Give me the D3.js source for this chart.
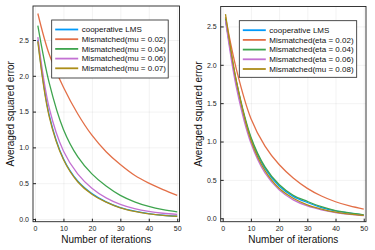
<!DOCTYPE html>
<html>
<head>
<meta charset="utf-8">
<script src="https://cdn.jsdelivr.net/npm/d3@7"></script>
<style>
  body { margin: 0; background: #fff; }
  text { font-family: "Liberation Sans", Arial, sans-serif; }
</style>
</head>
<body>
<svg id="chart" width="375" height="250"></svg>
<script>
// iteration samples
var iterations = [1, 5, 10, 15, 20, 25, 30, 35, 40, 45, 50];

// left panel (mu)
var leftCoop   = [2.50, 1.45, 0.84, 0.53, 0.355, 0.24, 0.16, 0.11, 0.075, 0.052, 0.040];
var leftMu002  = [2.87, 2.30, 1.84, 1.47, 1.17, 0.94, 0.76, 0.61, 0.50, 0.41, 0.33];
var leftMu004  = [2.70, 1.90, 1.25, 0.87, 0.63, 0.46, 0.33, 0.24, 0.175, 0.13, 0.10];
var leftMu006  = [2.54, 1.55, 0.95, 0.63, 0.43, 0.295, 0.205, 0.145, 0.105, 0.08, 0.065];
var leftMu007  = [2.48, 1.43, 0.83, 0.52, 0.345, 0.235, 0.155, 0.105, 0.072, 0.05, 0.038];

// right panel (eta)
var rightCoop   = [2.60, 1.74, 1.04, 0.65, 0.42, 0.285, 0.205, 0.14, 0.095, 0.065, 0.042];
var rightEta002 = [2.62, 1.92, 1.30, 0.94, 0.70, 0.525, 0.39, 0.29, 0.215, 0.16, 0.12];
var rightEta004 = [2.60, 1.76, 1.06, 0.67, 0.44, 0.30, 0.22, 0.15, 0.10, 0.07, 0.045];
var rightEta006 = [2.58, 1.68, 0.98, 0.59, 0.37, 0.24, 0.16, 0.11, 0.075, 0.05, 0.033];
var rightMu008  = [2.66, 1.76, 1.02, 0.62, 0.39, 0.26, 0.175, 0.12, 0.08, 0.055, 0.038];

var leftLabels  = ["cooperative LMS", "Mismatched(mu = 0.02)", "Mismatched(mu = 0.04)", "Mismatched(mu = 0.06)", "Mismatched(mu = 0.07)"];
var rightLabels = ["cooperative LMS", "Mismatched(eta = 0.02)", "Mismatched(eta = 0.04)", "Mismatched(eta = 0.06)", "Mismatched(mu = 0.08)"];

var xTicks = [0, 10, 20, 30, 40, 50];
var yTicks = [0.0, 0.5, 1.0, 1.5, 2.0, 2.5];

var colors = ["#009AFA", "#E36F47", "#3EA44E", "#C371D2", "#AC8D18"];

var panels = [
    {left: 33, right: 179.5, top: 6, bottom: 221.7, yDomain: [-0.038, 2.975],
     series: [leftCoop, leftMu002, leftMu004, leftMu006, leftMu007], labels: leftLabels,
     legend: {x: 51.7, y: 20, w: 116.5, h: 58}},
    {left: 220.7, right: 366, top: 6.5, bottom: 221.7, yDomain: [-0.045, 2.76],
     series: [rightCoop, rightEta002, rightEta004, rightEta006, rightMu008], labels: rightLabels,
     legend: {x: 239.3, y: 20.7, w: 117.4, h: 56.6}}
];

var svg = d3.select("#chart");

panels.forEach(function(p) {
    var w = p.right - p.left;
    var h = p.bottom - p.top;

    var x = d3.scaleLinear().domain([-0.7, 50.8]).range([p.left, p.right]);
    var y = d3.scaleLinear().domain(p.yDomain).range([p.bottom, p.top]);

    // grid
    svg.append("g")
        .attr("transform", "translate(0," + p.bottom + ")")
        .call(d3.axisBottom(x).tickValues(xTicks).tickSize(-h).tickFormat(""))
        .call(function(g) {
            g.select(".domain").remove();
            g.selectAll("line").attr("stroke", "#000").attr("stroke-opacity", 0.1).attr("stroke-width", 0.5);
        });
    svg.append("g")
        .attr("transform", "translate(" + p.left + ",0)")
        .call(d3.axisLeft(y).tickValues(yTicks).tickSize(-w).tickFormat(""))
        .call(function(g) {
            g.select(".domain").remove();
            g.selectAll("line").attr("stroke", "#000").attr("stroke-opacity", 0.1).attr("stroke-width", 0.5);
        });

    // lines
    var line = d3.line()
        .x(function(d, i) { return x(iterations[i]); })
        .y(function(d) { return y(d); })
        .curve(d3.curveCatmullRom.alpha(0.5));

    p.series.forEach(function(s, i) {
        svg.append("path")
            .datum(s)
            .attr("fill", "none")
            .attr("stroke", colors[i])
            .attr("stroke-width", 1.3)
            .attr("d", line);
    });

    // frame
    svg.append("rect")
        .attr("x", p.left).attr("y", p.top)
        .attr("width", w).attr("height", h)
        .attr("fill", "none").attr("stroke", "#222").attr("stroke-width", 0.9);

    // ticks + labels
    svg.append("g")
        .attr("transform", "translate(0," + p.bottom + ")")
        .call(d3.axisBottom(x).tickValues(xTicks).tickSize(-3).tickPadding(4).tickFormat(d3.format("d")))
        .call(function(g) {
            g.select(".domain").remove();
            g.selectAll("line").attr("stroke", "#222");
            g.selectAll("text").attr("font-size", 7).attr("fill", "#222")
                .style("font-family", "'Liberation Sans', Arial, sans-serif");
        });
    svg.append("g")
        .attr("transform", "translate(" + p.left + ",0)")
        .call(d3.axisLeft(y).tickValues(yTicks).tickSize(-3).tickPadding(4).tickFormat(d3.format(".1f")))
        .call(function(g) {
            g.select(".domain").remove();
            g.selectAll("line").attr("stroke", "#222");
            g.selectAll("text").attr("font-size", 7).attr("fill", "#222")
                .style("font-family", "'Liberation Sans', Arial, sans-serif");
        });

    // axis titles
    svg.append("text")
        .attr("x", (p.left + p.right) / 2)
        .attr("y", 243)
        .attr("text-anchor", "middle")
        .attr("font-size", 10)
        .attr("fill", "#111")
        .text("Number of iterations");

    svg.append("text")
        .attr("transform", "translate(" + (p.left - 19) + "," + ((p.top + p.bottom) / 2) + ") rotate(-90)")
        .attr("text-anchor", "middle")
        .attr("font-size", 10)
        .attr("fill", "#111")
        .text("Averaged squared error");

    // legend
    var lg = p.legend;
    svg.append("rect")
        .attr("x", lg.x).attr("y", lg.y)
        .attr("width", lg.w).attr("height", lg.h)
        .attr("fill", "#fff").attr("stroke", "#222").attr("stroke-width", 0.8);

    p.labels.forEach(function(label, i) {
        var ly = lg.y + 9.5 + i * 9.7;
        svg.append("line")
            .attr("x1", lg.x + 3.5).attr("x2", lg.x + 26.5)
            .attr("y1", ly).attr("y2", ly)
            .attr("stroke", colors[i]).attr("stroke-width", 1.8);
        svg.append("text")
            .attr("x", lg.x + 30)
            .attr("y", ly + 2.8)
            .attr("font-size", 8)
            .attr("fill", "#111")
            .text(label);
    });
});
</script>
</body>
</html>
